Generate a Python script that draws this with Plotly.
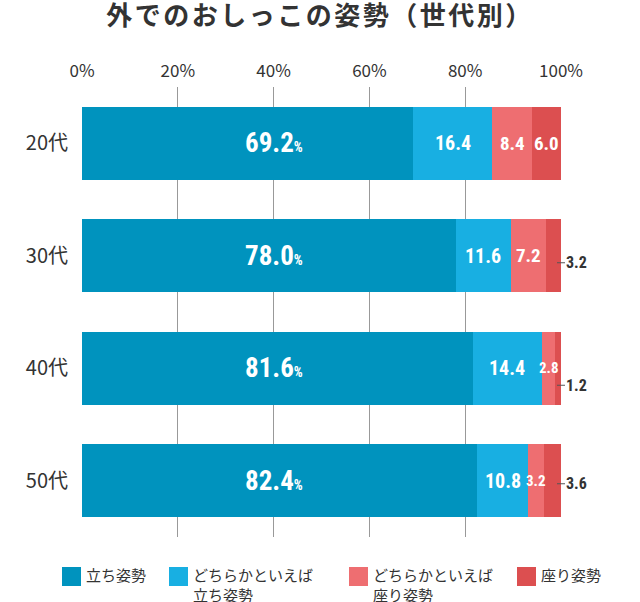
import plotly.graph_objects as go

# ---------------- data ----------------
categories = ['20代', '30代', '40代', '50代']
series_names = ['立ち姿勢', 'どちらかといえば立ち姿勢', 'どちらかといえば座り姿勢', '座り姿勢']
legend_labels = ['立ち姿勢', 'どちらかといえば<br>立ち姿勢', 'どちらかといえば<br>座り姿勢', '座り姿勢']
stand = [69.2, 78.0, 81.6, 82.4]
rather_stand = [16.4, 11.6, 14.4, 10.8]
rather_sit = [8.4, 7.2, 2.8, 3.2]
sit = [6.0, 3.2, 1.2, 3.6]
x_tick_values = [0, 20, 40, 60, 80, 100]
x_tick_labels = ['0%', '20%', '40%', '60%', '80%', '100%']
title_text = '外でのおしっこの姿勢（世代別）'

# ---------------- style ----------------
series = [stand, rather_stand, rather_sit, sit]
colors = ['#0093BE', '#18AFE2', '#EE6E71', '#DC4F50']
W, H = 640, 602
L, R, T, B = 82, 79, 87, 65
PW, PH = W - L - R, H - T - B
JP_FONT = "'Noto Sans CJK JP', 'Noto Sans', sans-serif"
NUM_FONT = "Roboto, 'Liberation Sans', sans-serif"
TEXT_COLOR = '#333333'
MAIN_LABEL_X = 40.1
outside_yshift = {'20代': 0, '30代': -7, '40代': -17, '50代': -3}
COND = "font-stretch:condensed"


def px_x(px):
    return (px - L) / PW


def px_y(py):
    return (H - B - py) / PH


def num_text(v, suffix=''):
    return f"<span style='{COND}'><b>{v:.1f}</b>{suffix}</span>"


fig = go.Figure()
for name, vals, col in zip(series_names, series, colors):
    fig.add_trace(go.Bar(
        y=categories, x=vals, name=name, orientation='h',
        marker=dict(color=col, line=dict(width=0)),
        hoverinfo='skip', showlegend=False,
    ))

annotations = []
# main series labels
for cat, v in zip(categories, stand):
    annotations.append(dict(
        x=MAIN_LABEL_X, y=cat, xref='x', yref='y', showarrow=False,
        text=num_text(v, "<span style='font-size:14px'><b>%</b></span>"),
        font=dict(family=NUM_FONT, size=27, color='white'),
        xanchor='center', yanchor='middle',
    ))


def label_size(v):
    if v >= 10:
        return 20
    if v >= 5:
        return 19
    return 15


for si in range(1, 4):
    for ci, cat in enumerate(categories):
        v = series[si][ci]
        base = sum(series[k][ci] for k in range(si))
        if si == 3 and v < 5:
            total = base + v
            annotations.append(dict(
                x=total, y=cat, xref='x', yref='y', showarrow=True,
                arrowhead=0, arrowwidth=1, arrowcolor='#555555',
                ax=8, ay=0, xanchor='left', yanchor='middle',
                xshift=-4, yshift=outside_yshift[cat],
                text=num_text(v),
                font=dict(family=NUM_FONT, size=16, color=TEXT_COLOR),
                borderpad=0,
            ))
        else:
            annotations.append(dict(
                x=base + v / 2, y=cat, xref='x', yref='y', showarrow=False,
                text=num_text(v),
                font=dict(family=NUM_FONT, size=label_size(v), color='white'),
                xanchor='center', yanchor='middle',
            ))

# manual legend
legend_sq_left = [62, 169, 349, 517]
shapes = []
for lbl, col, sx in zip(legend_labels, colors, legend_sq_left):
    shapes.append(dict(
        type='rect', xref='paper', yref='paper',
        x0=px_x(sx), x1=px_x(sx + 19), y0=px_y(586), y1=px_y(567),
        fillcolor=col, line=dict(width=0),
    ))
    annotations.append(dict(
        x=px_x(sx + 22), y=px_y(562), xref='paper', yref='paper',
        showarrow=False, xanchor='left', yanchor='top', align='left',
        text=lbl, font=dict(family=JP_FONT, size=15, color=TEXT_COLOR),
    ))

fig.update_layout(
    width=W, height=H,
    margin=dict(l=L, r=R, t=T, b=B, pad=0),
    paper_bgcolor='white', plot_bgcolor='white',
    barmode='stack', bargap=0.348,
    title=dict(
        text=f"<span style='letter-spacing:2.5px'><b>{title_text}</b></span>",
        x=0.5, xref='container', xanchor='center',
        y=1 - 16 / H, yref='container', yanchor='middle',
        font=dict(family=JP_FONT, size=26, color='#333333'),
    ),
    xaxis=dict(
        side='top', range=[0, 100], tickvals=x_tick_values, ticktext=x_tick_labels,
        showgrid=True, gridcolor='#999999', gridwidth=1, zeroline=False,
        ticks='', ticklabelstandoff=6, showline=False,
        tickfont=dict(family=JP_FONT, size=17, color=TEXT_COLOR),
        fixedrange=True,
    ),
    yaxis=dict(
        type='category', categoryorder='array', categoryarray=categories,
        autorange='reversed', showgrid=False, zeroline=False, ticks='',
        ticklabelstandoff=13,
        tickfont=dict(family=JP_FONT, size=20, color=TEXT_COLOR),
        fixedrange=True,
    ),
    annotations=annotations,
    shapes=shapes,
    showlegend=False,
)

fig.write_html(
    'out.html',
    config={'displayModeBar': False},
    post_script="document.body.style.margin='0';document.body.style.overflow='hidden';",
)
